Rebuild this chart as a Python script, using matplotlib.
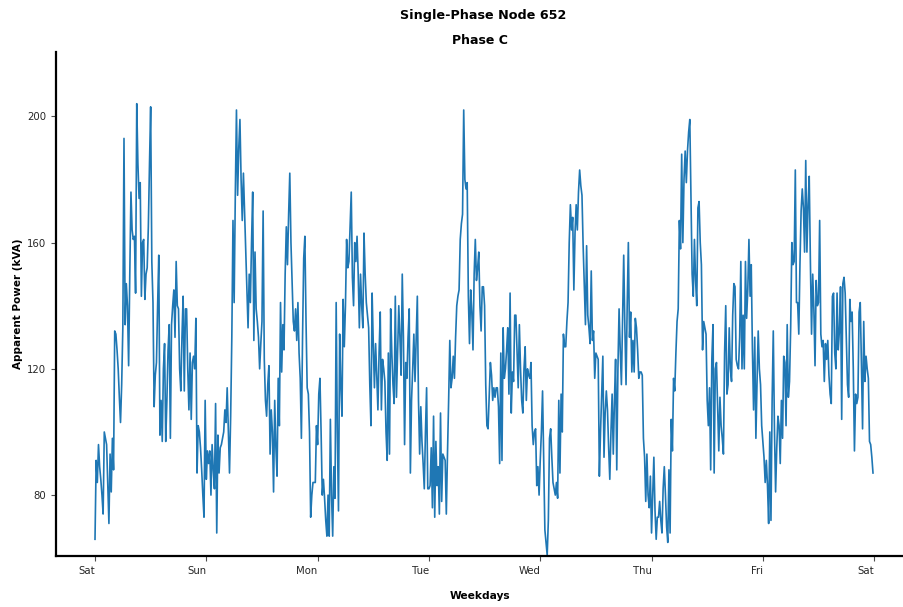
import numpy as np
import matplotlib
matplotlib.use("Agg")
import matplotlib.pyplot as plt

# Apparent power of phase C, 15-minute readings (96 per day), Saturday to Friday
sat = [66, 91, 84, 96, 89, 85, 80, 74, 100, 98, 96, 84, 71, 93, 81, 98,
       88, 132, 131, 126, 120, 111, 103, 115, 133, 193, 134, 147, 140, 121, 150, 176,
       164, 161, 162, 144, 204, 185, 174, 179, 143, 160, 161, 142, 150, 152, 165, 185,
       203, 154, 141, 108, 118, 122, 140, 156, 99, 110, 97, 120, 128, 97, 110, 126,
       134, 98, 134, 140, 145, 130, 154, 140, 139, 120, 113, 130, 143, 113, 139, 139,
       120, 107, 125, 104, 122, 124, 120, 136, 87, 102, 100, 95, 88, 80, 73, 110]
sun = [85, 94, 90, 94, 80, 96, 88, 82, 109, 68, 99, 87, 95, 96, 98, 100,
       107, 103, 114, 100, 87, 105, 130, 167, 141, 175, 202, 175, 190, 199, 180, 167,
       182, 170, 159, 145, 133, 150, 141, 160, 176, 129, 157, 139, 135, 130, 120, 128,
       135, 170, 123, 110, 105, 115, 121, 93, 107, 100, 81, 110, 95, 86, 117, 102,
       141, 119, 134, 126, 150, 165, 153, 169, 182, 160, 148, 135, 132, 139, 129, 141,
       125, 117, 98, 130, 155, 162, 135, 114, 112, 100, 73, 80, 84, 84, 84, 102]
mon = [96, 112, 117, 100, 80, 85, 79, 72, 67, 80, 67, 104, 80, 67, 89, 79,
       141, 100, 75, 131, 115, 105, 142, 127, 140, 161, 152, 154, 165, 176, 149, 140,
       160, 154, 162, 150, 133, 150, 140, 133, 163, 150, 141, 137, 133, 115, 102, 144,
       128, 114, 128, 118, 107, 125, 138, 107, 123, 120, 116, 100, 91, 125, 93, 139,
       125, 115, 109, 143, 111, 125, 140, 130, 118, 150, 130, 96, 122, 117, 130, 139,
       87, 110, 120, 131, 116, 130, 143, 110, 93, 108, 97, 90, 82, 100, 114, 82]
tue = [82, 83, 95, 76, 105, 73, 97, 83, 89, 74, 106, 78, 93, 92, 91, 74,
       93, 110, 129, 114, 117, 124, 117, 130, 140, 143, 145, 161, 166, 169, 202, 180,
       177, 179, 143, 128, 145, 138, 126, 150, 161, 148, 152, 157, 140, 132, 146, 146,
       140, 115, 102, 101, 112, 122, 118, 110, 114, 111, 114, 114, 108, 90, 125, 91,
       133, 117, 120, 126, 133, 112, 144, 106, 119, 116, 137, 137, 125, 114, 134, 120,
       110, 106, 120, 127, 110, 120, 118, 117, 122, 102, 96, 100, 101, 83, 89, 80]
wed = [91, 100, 113, 91, 69, 65, 61, 72, 98, 101, 92, 84, 82, 80, 84, 79,
       110, 87, 112, 100, 131, 127, 127, 135, 141, 160, 172, 164, 168, 145, 163, 172,
       164, 176, 183, 178, 175, 159, 147, 134, 159, 137, 133, 128, 151, 129, 132, 117,
       125, 124, 123, 86, 100, 112, 124, 92, 106, 113, 107, 95, 85, 100, 112, 93,
       110, 123, 88, 120, 139, 126, 115, 135, 156, 133, 115, 140, 160, 130, 138, 119,
       129, 119, 136, 133, 126, 117, 119, 119, 118, 98, 92, 78, 93, 80, 76, 86]
thu = [68, 80, 92, 75, 66, 73, 73, 78, 72, 68, 82, 89, 80, 70, 65, 88,
       68, 104, 94, 117, 113, 125, 135, 139, 167, 158, 188, 160, 180, 189, 179, 189,
       195, 199, 174, 150, 143, 161, 148, 140, 171, 173, 160, 153, 126, 135, 133, 131,
       110, 102, 114, 88, 123, 134, 87, 120, 122, 108, 94, 111, 102, 98, 93, 125,
       140, 112, 115, 133, 120, 116, 137, 147, 146, 123, 121, 120, 130, 154, 120, 137,
       120, 154, 136, 145, 161, 143, 153, 126, 107, 130, 98, 116, 132, 120, 115, 102]
fri = [97, 92, 84, 91, 83, 71, 100, 72, 110, 132, 101, 81, 95, 105, 102, 90,
       110, 98, 124, 122, 102, 134, 111, 116, 133, 160, 153, 154, 183, 141, 141, 131,
       153, 170, 177, 171, 157, 186, 157, 172, 181, 154, 131, 150, 139, 121, 148, 140,
       141, 167, 131, 127, 129, 116, 128, 123, 129, 118, 112, 109, 143, 144, 125, 120,
       144, 126, 132, 146, 104, 147, 149, 144, 130, 115, 111, 142, 135, 138, 120, 94,
       112, 109, 111, 138, 141, 122, 101, 135, 116, 124, 120, 117, 97, 96, 92, 87]

day_labels = ["Sat", "Sun", "Mon", "Tue", "Wed", "Thu", "Fri", "Sat"]
readings_per_day = 96

power = np.array(sat + sun + mon + tue + wed + thu + fri, dtype=float)
t_days = np.arange(power.size) / readings_per_day

fig = plt.figure(figsize=(9.04, 6.07), dpi=100)
ax = fig.add_axes([0.062, 0.084, 0.937, 0.830])

ax.plot(t_days, power, color="#1f77b4", linewidth=1.2)

ax.set_xlim(-0.35, 7.26)
ax.set_ylim(power.min() - 0.3, power.max() * 1.08)

ax.set_xticks(np.arange(len(day_labels)))
ax.set_xticklabels(day_labels, ha="right")
ax.set_yticks([80, 120, 160, 200])

for side in ("top", "right"):
    ax.spines[side].set_visible(False)
for side in ("left", "bottom"):
    ax.spines[side].set_linewidth(1.6)
    ax.spines[side].set_color("black")

ax.tick_params(axis="both", labelsize=7.3, labelcolor="0.15", color="0.3",
               length=3.5, width=0.8)

ax.set_xlabel("Weekdays", fontsize=7.7, fontweight="bold", labelpad=11)
ax.set_ylabel("Apparent Power (kVA)", fontsize=7.5, fontweight="bold", labelpad=3)
ax.set_title("Phase C", fontsize=9, fontweight="bold", pad=6)
fig.text(0.535, 0.975, "Single-Phase Node 652", ha="center", va="center",
         fontsize=9.2, fontweight="bold")

fig.savefig("out.png", dpi=100)
